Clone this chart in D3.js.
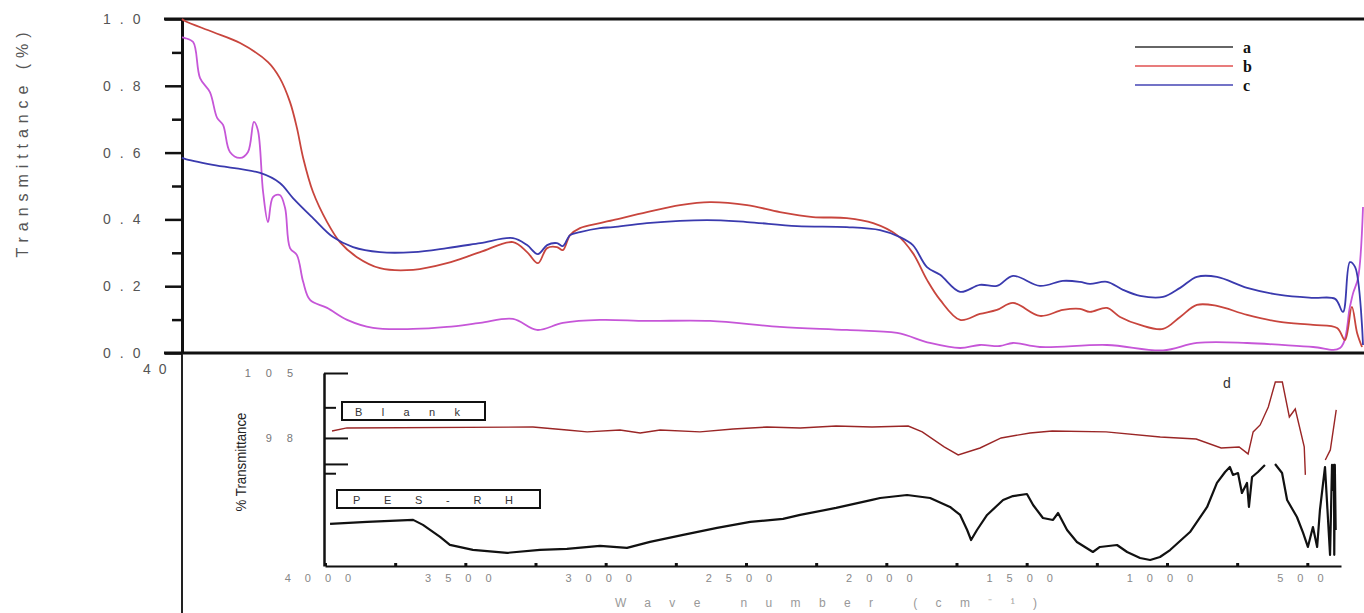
<!DOCTYPE html>
<html><head><meta charset="utf-8">
<script src="https://cdn.jsdelivr.net/npm/d3@7/dist/d3.min.js"></script>
<style>
body{margin:0;background:#fff;}
svg{display:block;font-family:"Liberation Sans",Arial,sans-serif;}
</style></head><body>
<svg id="chart" width="1364" height="613"></svg>
<script>
// ---------- DATA ----------
// Top panel: transmittance vs wavenumber (cm-1)
const seriesNames = ["a", "b", "c"];
const wnA = [4000,3991,3966,3945,3915,3893,3875,3854,3823,3799,3781,3769,3753,3738,3723,3702,3686,3671,3650,3631,3610,3558,3497,3418,3296,3193,3092,2992,2919,2840,2727,2584,2392,2179,1975,1822,1722,1630,1570,1509,1469,1387,1183,1012,909,756,555,473,443,433,418,403];
const tA  = [0.945,0.943,0.931,0.823,0.781,0.704,0.683,0.602,0.584,0.602,0.692,0.668,0.482,0.392,0.467,0.473,0.434,0.314,0.293,0.213,0.159,0.135,0.099,0.075,0.072,0.078,0.090,0.102,0.069,0.090,0.099,0.096,0.096,0.078,0.069,0.060,0.030,0.015,0.024,0.021,0.030,0.018,0.024,0.008,0.030,0.030,0.018,0.015,0.138,0.180,0.225,0.437];
const wnB = [4000,3991,3906,3823,3738,3702,3671,3650,3631,3601,3558,3519,3467,3397,3296,3193,3092,2992,2949,2916,2888,2858,2840,2818,2788,2727,2687,2584,2483,2392,2279,2179,2078,1975,1895,1822,1774,1731,1691,1630,1570,1518,1469,1387,1317,1265,1235,1183,1143,1082,1012,960,909,848,756,656,555,482,458,437,421,406];
const tB  = [1.0,0.994,0.961,0.928,0.871,0.823,0.751,0.674,0.584,0.482,0.392,0.332,0.287,0.254,0.249,0.269,0.302,0.332,0.302,0.269,0.314,0.317,0.308,0.353,0.374,0.389,0.398,0.422,0.443,0.452,0.443,0.422,0.407,0.404,0.389,0.353,0.299,0.219,0.159,0.099,0.117,0.129,0.150,0.111,0.129,0.132,0.123,0.135,0.108,0.084,0.072,0.108,0.144,0.141,0.114,0.093,0.084,0.075,0.039,0.138,0.060,0.018];
const wnC = [4000,3991,3906,3762,3702,3662,3601,3540,3479,3397,3296,3193,3092,2992,2949,2916,2888,2858,2840,2818,2788,2727,2687,2584,2401,2279,2127,1975,1874,1813,1774,1731,1691,1630,1570,1518,1469,1387,1317,1265,1235,1183,1134,1082,1012,960,909,848,756,656,555,488,464,443,427,403];
const tC  = [0.585,0.581,0.563,0.539,0.509,0.464,0.404,0.347,0.317,0.302,0.302,0.314,0.329,0.344,0.323,0.296,0.323,0.329,0.320,0.353,0.362,0.374,0.377,0.389,0.398,0.392,0.380,0.377,0.368,0.347,0.323,0.257,0.234,0.183,0.204,0.201,0.231,0.201,0.216,0.213,0.207,0.213,0.189,0.171,0.168,0.195,0.228,0.228,0.195,0.174,0.165,0.162,0.123,0.272,0.257,0.024];
const yTicksTop = [0, 0.2, 0.4, 0.6, 0.8, 1.0];
const yMinorTop = [0.1, 0.3, 0.5, 0.7, 0.9];
const yTickLabelsTop = ["0.0", "0.2", "0.4", "0.6", "0.8", "1.0"];
const lowerPanelLabel = "40";

// Inset (d): % transmittance vs wavenumber
const insetNames = ["Blank", "PES-RH"];
const wnBlank = [3975,3922,3259,3138,3066,2949,2877,2806,2664,2546,2425,2307,2179,2051,1922,1872,1794,1744,1666,1591,1488,1409,1217,1024,896,807,743,711,693,668,639,614,589,564,543,511,507,470,436,418,397];
const tBlank  = [98.75,99.08,99.18,98.86,98.65,98.86,98.54,98.86,98.65,98.97,99.18,99.08,99.29,99.18,99.29,98.65,97.03,96.17,96.92,98.0,98.54,98.75,98.65,98.11,97.89,96.92,97.03,96.28,98.65,99.4,101.34,104.03,104.03,100.26,101.12,97.03,94.02,null,95.63,96.71,101.02];
const wnPES = [3982,3850,3686,3651,3590,3555,3473,3351,3234,3138,3020,2924,2842,2724,2603,2485,2368,2307,2179,2051,2022,1926,1844,1773,1737,1712,1698,1677,1641,1584,1549,1499,1477,1442,1406,1388,1356,1321,1264,1239,1178,1142,1096,1060,1025,989,918,857,822,793,776,765,747,733,715,708,697,676,651,630,615,590,572,537,515,498,480,465,455,437,419,412,408,405,404,402,399];
const tPES  = [88.74,88.95,89.17,88.63,87.34,86.48,85.94,85.62,85.94,86.05,86.37,86.15,86.8,87.55,88.31,88.95,89.28,89.71,90.46,91.32,91.53,91.85,91.53,90.56,89.70,88.08,87.0,88.08,89.70,91.31,91.74,91.96,90.77,89.37,89.16,89.91,88.08,86.79,85.71,86.25,86.46,85.71,85.06,84.85,85.17,85.92,87.86,90.56,93.15,94.33,94.87,94.01,94.22,92.07,93.15,90.56,93.79,94.33,95.09,null,95.19,94.22,91.31,89.48,87.76,86.25,88.40,86.25,90.24,94.87,85.39,95.09,92.39,95.09,85.4,95.09,88.08];
const insetXMajor = [4000,3500,3000,2500,2000,1500,1000,500];
const insetXMinor = [3750,3250,2750,2250,1750,1250,750];
const insetXLabels = ["4000","3500","3000","2500","2000","1500","1000","500"];
const insetYMajor = [105, 98, 95.2];
const insetYMinor = [101.3, 94.2];
const insetYLabels = [[105, "105"], [98, "98"]];
const insetTag = "d";

// ---------- DRAW ----------
const svg = d3.select("#chart");
const W = 1364, H = 613;

const xTop = d3.scaleLinear().domain([4000, 400]).range([182, 1364]);
const yTop = d3.scaleLinear().domain([0, 1]).range([353, 19]);
const xIn = d3.scaleLinear().domain([4000, 380]).range([325, 1341]);
const yIn = d3.scaleLinear().domain([84.2, 105]).range([566, 373]);

const topColors = {a: "#c656d8", b: "#c8453d", c: "#3a3aae"};
const legendColors = {a: "#333333", b: "#e05050", c: "#4545b5"};

// Top frame lines
svg.append("line").attr("x1", 164).attr("x2", W).attr("y1", yTop(1)).attr("y2", yTop(1))
  .attr("stroke", "#111").attr("stroke-width", 3);
svg.append("line").attr("x1", 164).attr("x2", W).attr("y1", yTop(0)).attr("y2", yTop(0))
  .attr("stroke", "#111").attr("stroke-width", 3);
svg.append("line").attr("x1", xTop(4000)).attr("x2", xTop(4000)).attr("y1", yTop(0)).attr("y2", H)
  .attr("stroke", "#222").attr("stroke-width", 2);

// Top y axis
const gy = svg.append("g").attr("transform", `translate(${xTop(4000)},0)`)
  .call(d3.axisLeft(yTop).tickValues(yTicksTop).tickSize(17).tickSizeOuter(0).tickFormat(""));
gy.select(".domain").attr("stroke", "#111").attr("stroke-width", 3);
gy.selectAll(".tick line").attr("stroke", "#111").attr("stroke-width", 2.5);
const gym = svg.append("g").attr("transform", `translate(${xTop(4000)},0)`)
  .call(d3.axisLeft(yTop).tickValues(yMinorTop).tickSize(10).tickSizeOuter(0).tickFormat(""));
gym.select(".domain").remove();
gym.selectAll(".tick line").attr("stroke", "#111").attr("stroke-width", 2.5);

svg.append("g").selectAll("text").data(yTicksTop).join("text")
  .attr("x", 103).attr("y", d => yTop(d)).attr("dy", "0.36em")
  .attr("font-size", 14).attr("fill", "#555").style("letter-spacing", "9px")
  .text((d, i) => yTickLabelsTop[i]);

svg.append("text").attr("x", 143).attr("y", 369).attr("dy", "0.36em")
  .attr("font-size", 14).attr("fill", "#555").style("letter-spacing", "8px")
  .text(lowerPanelLabel);

svg.append("text")
  .attr("transform", "translate(28,145) rotate(-90)")
  .attr("text-anchor", "middle").attr("font-size", 16).attr("fill", "#555")
  .attr("textLength", 225).attr("lengthAdjust", "spacing")
  .text("Transmittance (%)");

// Top curves
const lineTop = d3.line().curve(d3.curveCatmullRom.alpha(0.5))
  .x(d => xTop(d[0])).y(d => yTop(d[1]));
const topSeries = [["a", wnA, tA], ["b", wnB, tB], ["c", wnC, tC]];
svg.append("g").selectAll("path").data(topSeries).join("path")
  .attr("d", d => lineTop(d3.zip(d[1], d[2])))
  .attr("fill", "none").attr("stroke", d => topColors[d[0]])
  .attr("stroke-width", 1.8).attr("stroke-linejoin", "round");

// Legend
const lg = svg.append("g");
seriesNames.forEach((n, i) => {
  const yy = 47 + i * 19;
  lg.append("line").attr("x1", 1135).attr("x2", 1233).attr("y1", yy).attr("y2", yy)
    .attr("stroke", legendColors[n]).attr("stroke-width", 1.6);
  lg.append("text").attr("x", 1243).attr("y", yy + 6)
    .attr("font-family", "'Liberation Serif','Times New Roman',serif")
    .attr("font-weight", "bold").attr("font-size", 16).attr("fill", "#111").text(n);
});

// ---------- Inset ----------
const gix = svg.append("g").attr("transform", `translate(0,${yIn.range()[0]})`)
  .call(d3.axisTop(xIn).tickValues(insetXMajor.concat(insetXMinor)).tickSize(3).tickSizeOuter(0).tickFormat(""));
gix.select(".domain").attr("stroke", "#111").attr("stroke-width", 2);
gix.selectAll(".tick line").attr("stroke", "#111").attr("stroke-width", 3);

const giy = svg.append("g").attr("transform", `translate(${xIn(4000) - 1},0)`)
  .call(d3.axisRight(yIn).tickValues(insetYMajor).tickSize(24).tickSizeOuter(0).tickFormat(""));
giy.select(".domain").attr("stroke", "#111").attr("stroke-width", 2.5);
giy.selectAll(".tick line").attr("stroke", "#111").attr("stroke-width", 2);
const giym = svg.append("g").attr("transform", `translate(${xIn(4000) - 1},0)`)
  .call(d3.axisRight(yIn).tickValues(insetYMinor).tickSize(12).tickSizeOuter(0).tickFormat(""));
giym.select(".domain").remove();
giym.selectAll(".tick line").attr("stroke", "#111").attr("stroke-width", 2);

svg.append("g").selectAll("text").data(insetXMajor).join("text")
  .attr("x", d => xIn(d)).attr("y", 582)
  .attr("text-anchor", "middle").attr("font-size", 11).attr("fill", "#888")
  .style("letter-spacing", "14px").text((d, i) => insetXLabels[i]);

svg.append("g").selectAll("text").data(insetYLabels).join("text")
  .attr("x", 308).attr("y", d => yIn(d[0])).attr("dy", "0.36em")
  .attr("text-anchor", "end").attr("font-size", 11).attr("fill", "#777")
  .style("letter-spacing", "15px").text(d => d[1]);

svg.append("text")
  .attr("transform", "translate(246,462) rotate(-90)")
  .attr("text-anchor", "middle")
  .attr("font-family", "'Liberation Sans Narrow','Arial Narrow',sans-serif")
  .attr("font-size", 15).attr("fill", "#222")
  .attr("textLength", 99).attr("lengthAdjust", "spacingAndGlyphs")
  .text("% Transmittance");

svg.append("text").attr("x", 615).attr("y", 607)
  .attr("font-size", 12).attr("fill", "#999")
  .attr("textLength", 422).attr("lengthAdjust", "spacing")
  .text("Wave number (cm⁻¹)");

svg.append("text").attr("x", 1223).attr("y", 388)
  .attr("font-size", 14).attr("fill", "#333").text(insetTag);

// label boxes
const boxes = [
  {name: insetNames[0], x: 342, y: 402, w: 143, h: 18, tx: 355, tl: 105},
  {name: insetNames[1], x: 337, y: 490, w: 203, h: 18, tx: 353, tl: 160}
];
const gb = svg.append("g");
boxes.forEach(b => {
  gb.append("rect").attr("x", b.x).attr("y", b.y).attr("width", b.w).attr("height", b.h)
    .attr("fill", "#fff").attr("stroke", "#111").attr("stroke-width", 2);
  gb.append("text").attr("x", b.tx).attr("y", b.y + 14)
    .attr("font-size", 11).attr("fill", "#333")
    .attr("textLength", b.tl).attr("lengthAdjust", "spacing").text(b.name);
});

// inset curves
const lineIn = d3.line().defined(d => d[1] != null).x(d => xIn(d[0])).y(d => yIn(d[1]));
svg.append("path").attr("d", lineIn(d3.zip(wnBlank, tBlank)))
  .attr("fill", "none").attr("stroke", "#9a2626").attr("stroke-width", 1.4);
svg.append("path").attr("d", lineIn(d3.zip(wnPES, tPES)))
  .attr("fill", "none").attr("stroke", "#111").attr("stroke-width", 2.2)
  .attr("stroke-linejoin", "round");
</script>
</body></html>
